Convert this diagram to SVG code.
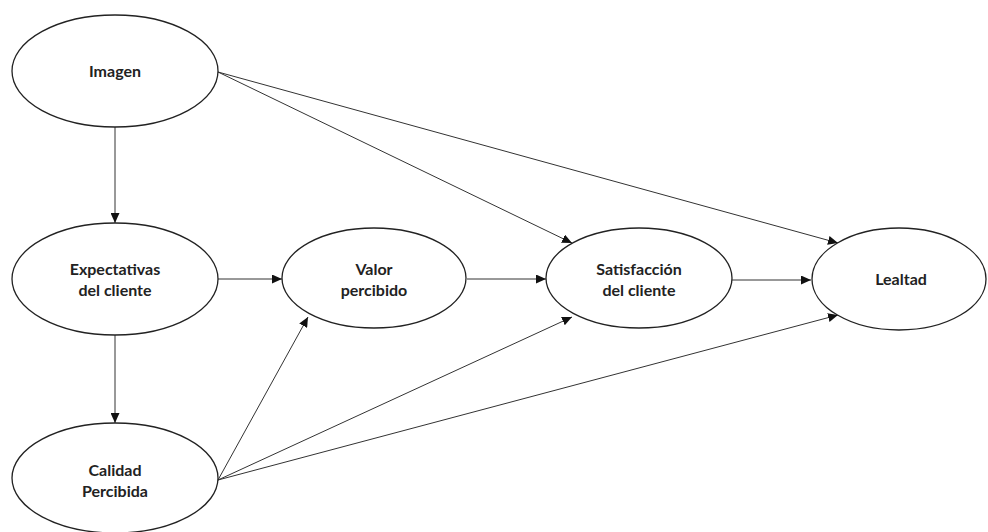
<svg xmlns="http://www.w3.org/2000/svg" width="988" height="532" viewBox="0 0 988 532">
<style>
.node ellipse{fill:#fff;stroke:#222;stroke-width:1.3}
.node text{font-family:Lato,"Open Sans","Liberation Sans",sans-serif;font-weight:bold;font-size:16px;fill:#222;text-anchor:middle}
.edge{stroke:#333;stroke-width:1;fill:none;marker-end:url(#ah)}
</style>
<defs>
<marker id="ah" markerUnits="userSpaceOnUse" markerWidth="11" markerHeight="9" refX="10" refY="4.5" orient="auto">
<path d="M0,0 L10,4.5 L0,9 Z" fill="#111"/>
</marker>
</defs>
<rect width="988" height="532" fill="#fff"/>
<g id="connectors">
<path class="edge" d="M115,127 L115,223"/>
<path class="edge" d="M115,335 L115,423"/>
<path class="edge" d="M218,279 L282,279"/>
<path class="edge" d="M467,279 L546,279"/>
<path class="edge" d="M732,280 L811,280"/>
<path class="edge" d="M218,72 L572,243"/>
<path class="edge" d="M218,72 L838,243"/>
<path class="edge" d="M218,480 L308,317"/>
<path class="edge" d="M218,480 L572,317"/>
<path class="edge" d="M218,480 L838,315"/>
</g>
<g id="imagen" class="node">
<ellipse cx="115" cy="71" rx="103" ry="56"/>
<text x="115" y="77">Imagen</text>
</g>
<g id="expectativas" class="node">
<ellipse cx="115" cy="279" rx="103" ry="56"/>
<text x="115" y="275">Expectativas</text>
<text x="115" y="296">del cliente</text>
</g>
<g id="calidad" class="node">
<ellipse cx="115" cy="478" rx="103" ry="55"/>
<text x="115" y="476">Calidad</text>
<text x="115" y="497">Percibida</text>
</g>
<g id="valor" class="node">
<ellipse cx="374" cy="278" rx="92" ry="50"/>
<text x="374" y="275">Valor</text>
<text x="374" y="296">percibido</text>
</g>
<g id="satisfaccion" class="node">
<ellipse cx="639" cy="278" rx="93" ry="50"/>
<text x="639" y="275">Satisfacción</text>
<text x="639" y="296">del cliente</text>
</g>
<g id="lealtad" class="node">
<ellipse cx="899" cy="279" rx="87" ry="51"/>
<text x="901" y="285">Lealtad</text>
</g>
</svg>
